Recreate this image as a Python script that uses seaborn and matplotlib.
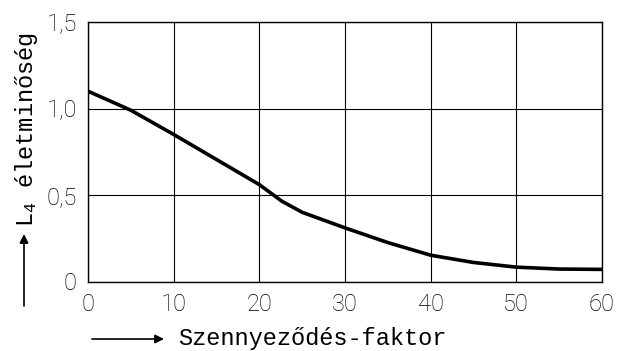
import matplotlib
matplotlib.use("Agg")
import matplotlib.pyplot as plt
import seaborn as sns
import pandas as pd

# Data
szennyezodes = [0, 5, 10, 15, 20, 22.6, 25, 30, 35, 40, 45, 50, 55, 60]
eletminoseg = [1.10, 0.99, 0.85, 0.705, 0.56, 0.465, 0.40, 0.31, 0.225, 0.152, 0.11, 0.083, 0.072, 0.07]
x_ticks = [0, 10, 20, 30, 40, 50, 60]
y_ticks = [0, 0.5, 1.0, 1.5]
y_tick_labels = ["0", "0,5", "1,0", "1,5"]
x_label = "Szennyeződés-faktor"
y_label = "L$_4$ életminőség"

sns.set_theme(style="white")
plt.rcParams["mathtext.fontset"] = "custom"
plt.rcParams["mathtext.rm"] = "Liberation Mono"
plt.rcParams["mathtext.it"] = "Liberation Mono:italic"

df = pd.DataFrame({"x": szennyezodes, "y": eletminoseg})

fig = plt.figure(figsize=(6.17, 3.51), dpi=100)
ax = fig.add_axes([88 / 617, 1 - 281.5 / 351, (602 - 88) / 617, (281.5 - 22) / 351])

sns.lineplot(data=df, x="x", y="y", ax=ax, color="black", linewidth=2.6)

ax.set_xlim(0, 60)
ax.set_ylim(0, 1.5)
ax.set_xticks(x_ticks)
ax.set_yticks(y_ticks)
ax.set_xticklabels([str(t) for t in x_ticks])
ax.set_yticklabels(y_tick_labels)
ax.set_xlabel("")
ax.set_ylabel("")
ax.grid(True, color="black", linewidth=0.8)
for s in ax.spines.values():
    s.set_visible(True)
    s.set_color("black")
    s.set_linewidth(1.0)
ax.tick_params(axis="both", length=0, colors="black")
ax.tick_params(axis="x", pad=8)
ax.tick_params(axis="y", pad=8)
for lab in ax.get_xticklabels() + ax.get_yticklabels():
    lab.set_fontfamily("Roboto")
    lab.set_fontweight("light")
    lab.set_fontsize(17)

mono = "Liberation Mono"
# x axis label with arrow
fig.text(178 / 617, 1 - 338 / 351, x_label, family=mono, fontsize=17,
         ha="left", va="center", color="black")
ax.annotate("", xy=(164 / 617, 1 - 339 / 351), xytext=(92 / 617, 1 - 339 / 351),
            xycoords="figure fraction", textcoords="figure fraction",
            arrowprops=dict(arrowstyle="-|>", color="black", lw=1.2,
                            mutation_scale=13, shrinkA=0, shrinkB=0))
# y axis label with arrow
fig.text(27 / 617, 1 - 227 / 351, y_label, family=mono, fontsize=17,
         ha="center", va="bottom", rotation=90, color="black")
ax.annotate("", xy=(24 / 617, 1 - 234 / 351), xytext=(24 / 617, 1 - 306 / 351),
            xycoords="figure fraction", textcoords="figure fraction",
            arrowprops=dict(arrowstyle="-|>", color="black", lw=1.2,
                            mutation_scale=13, shrinkA=0, shrinkB=0))

fig.savefig("out.png", dpi=100)
